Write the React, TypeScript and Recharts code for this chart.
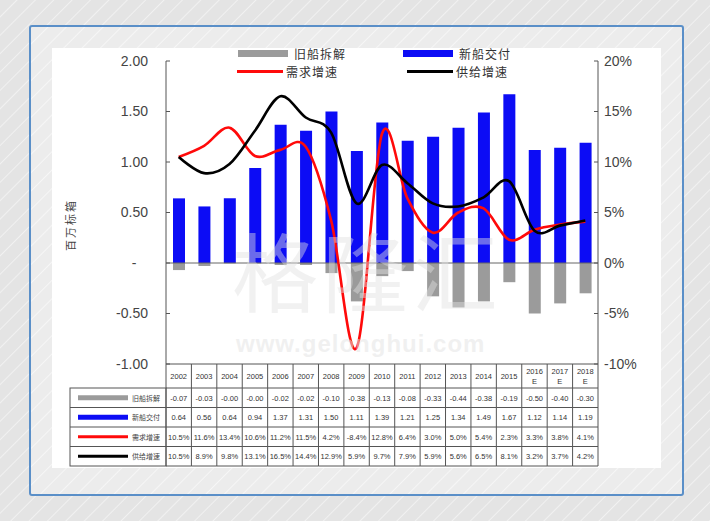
import React from "react"
import { Bar, ComposedChart, Line, ReferenceLine, XAxis, YAxis } from "recharts"

// 年份 / 数据
const years = ["2002", "2003", "2004", "2005", "2006", "2007", "2008", "2009", "2010", "2011", "2012", "2013", "2014", "2015", "2016E", "2017E", "2018E"]
const scrapped = [-0.07, -0.03, -0.004, -0.004, -0.02, -0.02, -0.1, -0.38, -0.13, -0.08, -0.33, -0.44, -0.38, -0.19, -0.5, -0.4, -0.3]
const delivered = [0.64, 0.56, 0.64, 0.94, 1.37, 1.31, 1.5, 1.11, 1.39, 1.21, 1.25, 1.34, 1.49, 1.67, 1.12, 1.14, 1.19]
const demandGrowth = [10.5, 11.6, 13.4, 10.6, 11.2, 11.5, 4.2, -8.4, 12.8, 6.4, 3.0, 5.0, 5.4, 2.3, 3.3, 3.8, 4.1]
const supplyGrowth = [10.5, 8.9, 9.8, 13.1, 16.5, 14.4, 12.9, 5.9, 9.7, 7.9, 5.9, 5.6, 6.5, 8.1, 3.2, 3.7, 4.2]
const leftTicks = [-1, -0.5, 0, 0.5, 1, 1.5, 2]
const rightTicks = [-10, -5, 0, 5, 10, 15, 20]

const seriesInfo = [
  { key: "scrap", name: "旧船拆解", color: "#9b9b9b", bar: true },
  { key: "deliver", name: "新船交付", color: "#0c0cf5", bar: true },
  { key: "demand", name: "需求增速", color: "#ff0a0a", bar: false },
  { key: "supply", name: "供给增速", color: "#000000", bar: false },
]

const data = years.map((year, i) => ({
  year,
  scrap: scrapped[i],
  deliver: delivered[i],
  demand: demandGrowth[i],
  supply: supplyGrowth[i],
}))

const PLOT_LEFT = 166
const PLOT_RIGHT = 598
const BAND = (PLOT_RIGHT - PLOT_LEFT) / years.length
const HEADER_H = 24
const ROW_H = 19.5
const TABLE_H = HEADER_H + ROW_H * 4
const LABEL_COL_W = 96
const SANS = "'Liberation Sans', Arial, sans-serif"
const CJK = "'Noto Sans CJK SC', sans-serif"

// excel 风格的平滑曲线 (catmull-rom)
function bez(that: any, x: number, y: number) {
  that._context.bezierCurveTo(
    that._x1 + that._k * (that._x2 - that._x0),
    that._y1 + that._k * (that._y2 - that._y0),
    that._x2 + that._k * (that._x1 - x),
    that._y2 + that._k * (that._y1 - y),
    that._x2,
    that._y2
  )
}

class SmoothCurve {
  _context: any
  _k: number
  _line: number = NaN
  _point = 0
  _x0 = NaN; _x1 = NaN; _x2 = NaN
  _y0 = NaN; _y1 = NaN; _y2 = NaN
  constructor(context: any) {
    this._context = context
    this._k = 1 / 6
  }
  areaStart() { this._line = 0 }
  areaEnd() { this._line = NaN }
  lineStart() {
    this._x0 = this._x1 = this._x2 = this._y0 = this._y1 = this._y2 = NaN
    this._point = 0
  }
  lineEnd() {
    if (this._point === 2) this._context.lineTo(this._x2, this._y2)
    else if (this._point === 3) bez(this, this._x1, this._y1)
    if (this._line || (this._line !== 0 && this._point === 1)) this._context.closePath()
    this._line = 1 - this._line
  }
  point(x: number, y: number) {
    x = +x
    y = +y
    if (this._point === 0) {
      this._point = 1
      this._line ? this._context.lineTo(x, y) : this._context.moveTo(x, y)
    } else if (this._point === 1) {
      this._point = 2
      this._x1 = x
      this._y1 = y
    } else {
      this._point = 3
      bez(this, x, y)
    }
    this._x0 = this._x1; this._x1 = this._x2; this._x2 = x
    this._y0 = this._y1; this._y1 = this._y2; this._y2 = y
  }
}
const smooth: any = (context: any) => new SmoothCurve(context)

const fmtLeft = (v: number) => (v === 0 ? "-\u00a0\u00a0\u00a0" : v.toFixed(2))
const fmtRight = (v: number) => `${v}%`

function TableTick(props: any) {
  const { x, y, payload, index } = props
  const left = x - BAND / 2
  const right = x + BAND / 2
  const year: string = payload.value
  const isEst = year.endsWith("E")
  const values = [
    scrapped[index].toFixed(2),
    delivered[index].toFixed(2),
    `${demandGrowth[index].toFixed(1)}%`,
    `${supplyGrowth[index].toFixed(1)}%`,
  ]
  const line = "#555"

  return (
    <g>
      {index === 0 && (
        <g>
          <line x1={left} x2={left} y1={y} y2={y + TABLE_H} stroke={line} />
          <rect x={left - LABEL_COL_W} y={y + HEADER_H} width={LABEL_COL_W} height={ROW_H * 4} fill="none" stroke={line} />
          {seriesInfo.map((s, r) => {
            const cy = y + HEADER_H + ROW_H * r + ROW_H / 2
            return (
              <g key={s.key}>
                {r > 0 && <line x1={left - LABEL_COL_W} x2={left} y1={cy - ROW_H / 2} y2={cy - ROW_H / 2} stroke={line} />}
                <line x1={left - LABEL_COL_W + 8} x2={left - 38} y1={cy} y2={cy} stroke={s.color} strokeWidth={s.bar ? 5 : 3} />
                <text x={left - 6} y={cy + 3} textAnchor="end" fontSize={7} fontFamily={CJK} fill="#444">
                  {s.name}
                </text>
              </g>
            )
          })}
        </g>
      )}
      <line x1={right} x2={right} y1={y} y2={y + TABLE_H} stroke={line} />
      {[0, 1, 2, 3, 4].map((r) => (
        <line key={r} x1={left} x2={right} y1={y + HEADER_H + ROW_H * r} y2={y + HEADER_H + ROW_H * r} stroke={line} />
      ))}
      {isEst ? (
        <text x={x} textAnchor="middle" fontSize={7.5} fontFamily={SANS} fill="#333">
          <tspan x={x} y={y + 10}>{year.slice(0, 4)}</tspan>
          <tspan x={x} y={y + 20}>E</tspan>
        </text>
      ) : (
        <text x={x} y={y + 15} textAnchor="middle" fontSize={7.5} fontFamily={SANS} fill="#333">
          {year}
        </text>
      )}
      {values.map((v, r) => (
        <text key={r} x={x} y={y + HEADER_H + ROW_H * r + ROW_H / 2 + 3} textAnchor="middle" fontSize={7.5} fontFamily={SANS} fill="#333">
          {v}
        </text>
      ))}
    </g>
  )
}

function LegendItem({ s, x, y }: { s: (typeof seriesInfo)[number]; x: number; y: number }) {
  return (
    <div style={{ position: "absolute", left: x, top: y, display: "flex", alignItems: "center", height: 16 }}>
      <div style={{ width: s.bar ? 50 : 46, height: s.bar ? 7 : 3, background: s.color, marginRight: s.bar ? 6 : 3 }} />
      <span style={{ fontFamily: CJK, fontSize: 12, color: "#333", letterSpacing: 1 }}>{s.name}</span>
    </div>
  )
}

export default function App() {
  return (
    <div
      style={{
        position: "absolute",
        left: 0,
        top: 0,
        width: 710,
        height: 521,
        overflow: "hidden",
        background:
          "repeating-linear-gradient(135deg, #e4e4e4 0px, #e4e4e4 11px, #f1f1f1 12px, #e4e4e4 13px)",
      }}
    >
      <div
        style={{
          position: "absolute",
          left: 29,
          top: 25,
          width: 651,
          height: 467,
          border: "2px solid #5a8fc8",
          borderRadius: 3,
          background: "repeating-linear-gradient(135deg, #ececec 0px, #ececec 11px, #f6f6f6 12px, #ececec 13px)",
        }}
      />
      <div style={{ position: "absolute", left: 52, top: 48, width: 609, height: 420, background: "#fff" }} />

      <div style={{ position: "absolute", left: 0, top: 0 }}>
        <ComposedChart
          width={710}
          height={521}
          data={data}
          stackOffset="sign"
          margin={{ top: 61, right: 710 - PLOT_RIGHT - 60, bottom: 521 - 364 - TABLE_H, left: PLOT_LEFT - 60 }}
        >
          <XAxis
            dataKey="year"
            xAxisId={0}
            interval={0}
            height={TABLE_H}
            tickLine={false}
            tickSize={0}
            tickMargin={0}
            axisLine={{ stroke: "#555" }}
            tick={(p: any) => <TableTick {...p} />}
          />
          <YAxis
            yAxisId="left"
            width={60}
            domain={[-1, 2]}
            ticks={leftTicks}
            tickFormatter={fmtLeft}
            tickSize={-4}
            tickMargin={22}
            axisLine={{ stroke: "#555" }}
            tickLine={{ stroke: "#555" }}
            tick={{ fontSize: 14, fill: "#444", fontFamily: SANS }}
          />
          <YAxis
            yAxisId="right"
            orientation="right"
            width={60}
            domain={[-10, 20]}
            ticks={rightTicks}
            tickFormatter={fmtRight}
            tickSize={-4}
            tickMargin={10}
            axisLine={{ stroke: "#555" }}
            tickLine={{ stroke: "#555" }}
            tick={{ fontSize: 14, fill: "#444", fontFamily: SANS, textAnchor: "start" }}
          />
          <Bar dataKey="scrap" yAxisId="left" stackId="s" fill={seriesInfo[0].color} barSize={12} isAnimationActive={false} />
          <Bar dataKey="deliver" yAxisId="left" stackId="s" fill={seriesInfo[1].color} barSize={12} isAnimationActive={false} />
          <ReferenceLine y={0} yAxisId="left" stroke="#666" strokeWidth={1} />
          <Line dataKey="demand" yAxisId="right" type={smooth} stroke={seriesInfo[2].color} strokeWidth={2.6} dot={false} isAnimationActive={false} />
          <Line dataKey="supply" yAxisId="right" type={smooth} stroke={seriesInfo[3].color} strokeWidth={2.6} dot={false} isAnimationActive={false} />
        </ComposedChart>
      </div>

      {/* 水印 */}
      <div style={{ position: "absolute", left: 232, top: 226, fontFamily: CJK, fontSize: 86, color: "rgba(225,225,225,0.45)", letterSpacing: 4, lineHeight: "86px", height: 86, pointerEvents: "none" }}>
        格隆汇
      </div>
      <div style={{ position: "absolute", left: 236, top: 332, fontFamily: SANS, fontSize: 24, lineHeight: "24px", fontWeight: "bold", color: "rgba(228,228,228,0.55)", letterSpacing: 1, pointerEvents: "none" }}>
        www.gelonghui.com
      </div>

      <div
        style={{
          position: "absolute",
          left: 70,
          top: 225,
          transform: "translate(-50%, -50%) rotate(-90deg)",
          fontFamily: CJK,
          fontSize: 11,
          color: "#444",
          letterSpacing: 2,
          whiteSpace: "nowrap",
        }}
      >
        百万标箱
      </div>

      <LegendItem s={seriesInfo[0]} x={238} y={45} />
      <LegendItem s={seriesInfo[1]} x={403} y={45} />
      <LegendItem s={seriesInfo[2]} x={237} y={63} />
      <LegendItem s={seriesInfo[3]} x={407} y={63} />
    </div>
  )
}
